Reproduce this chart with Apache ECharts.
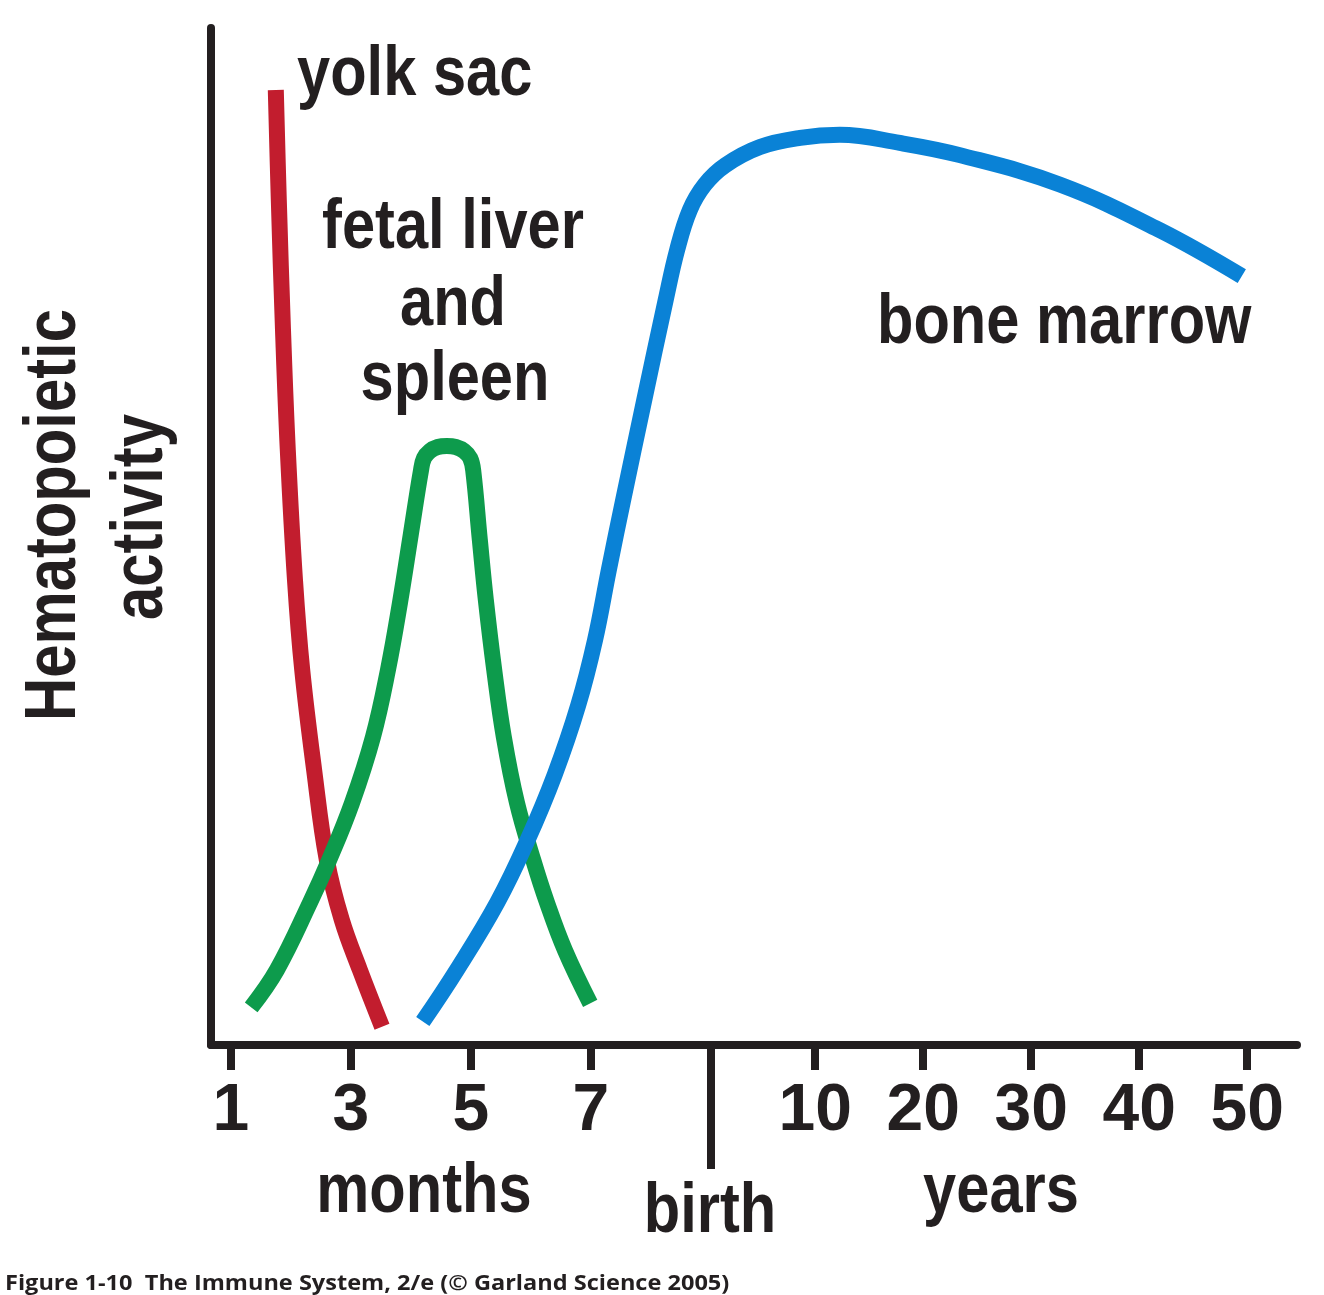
<!DOCTYPE html>
<html>
<head>
<meta charset="utf-8">
<script src="https://cdn.jsdelivr.net/npm/echarts@6/dist/echarts.min.js"></script>
<style>
  html, body { margin: 0; padding: 0; background: #ffffff; }
  #chart { width: 1324px; height: 1295px; }
</style>
</head>
<body>
<div id="chart"></div>
<script>
// ---- Axis ticks (x axis: months before birth, then years after birth) ----
const monthTicks = [1, 3, 5, 7];
const yearTicks = [10, 20, 30, 40, 50];
const birthPosition = 9;            // birth, in month units on the axis
const YEAR_ORIGIN = 8.94;           // axis position of year 0
const YEAR_STEP = 0.18;             // axis units per year
function yearToAxis(y) { return YEAR_ORIGIN + y * YEAR_STEP; }
function axisToYear(v) { return (v - YEAR_ORIGIN) / YEAR_STEP; }

// ---- Curves: x = axis position (months; post-birth part on the compressed year scale), y = activity (0-100) ----
const yolkSacX = [1.75, 1.80, 1.87, 1.95, 2.07, 2.19, 2.39, 2.60, 2.85, 3.15, 3.52];
const yolkSacY = [93.9, 83.1, 70.3, 58.5, 45.7, 36.9, 27.0, 18.2, 12.3, 7.4, 1.8];

const liverSpleenX = [1.34, 1.77, 2.32, 2.64, 3.02, 3.37, 3.62, 3.82, 4.00, 4.17, 4.22, 4.32, 4.45, 4.60,
                      4.75, 4.89, 4.99, 5.04, 5.15, 5.25, 5.39, 5.55, 5.77, 6.04, 6.27, 6.57, 6.99];
const liverSpleenY = [3.7, 7.4, 14.0, 18.2, 23.8, 30.3, 36.9, 43.5, 50.2, 56.5, 57.7, 58.4, 58.8, 58.9,
                      58.8, 58.4, 57.7, 56.5, 49.7, 43.8, 36.9, 30.3, 23.8, 18.2, 14.0, 9.3, 4.1];

const boneMarrowX = [4.20, 4.77, 5.44, 5.95, 6.40, 6.79, 7.07, 7.30, 7.54, 7.89, 8.25, 8.44, 8.65, 8.90, 9.24, 9.82,
                     10.49, 11.15, 12.15, 13.15, 14.82, 16.49, 17.85];
const boneMarrowY = [2.3, 7.4, 14.0, 20.2, 26.6, 33.4, 39.8, 46.7, 53.6, 63.4, 73.3, 78.2, 82.1, 84.6, 86.5, 88.3,
                     89.2, 89.5, 88.7, 87.5, 84.6, 80.1, 75.6];

function pairs(xs, ys) { return xs.map((x, i) => [x, ys[i]]); }

const INK = '#231f20';
const SANS = "'Liberation Sans', Arial, Helvetica, sans-serif";
const tickValues = monthTicks.concat(yearTicks.map(yearToAxis));

// Helvetica-condensed look: Liberation Sans Bold, horizontally compressed
function txt(text, x, y, align, size, squeeze, rotation) {
  const el = {
    type: 'text', x: x, y: y, scaleX: squeeze,
    style: {
      text: text, fill: INK,
      font: 'bold ' + size + 'px ' + SANS,
      align: align, textAlign: align,
      verticalAlign: 'middle', textVerticalAlign: 'middle'
    }
  };
  if (rotation) el.rotation = rotation;
  return el;
}

const chart = echarts.init(document.getElementById('chart'), null, { renderer: 'canvas' });
chart.setOption({
  backgroundColor: '#ffffff',
  animation: false,
  grid: { left: 211, right: 27, top: 28, bottom: 250, containLabel: false },
  xAxis: [
    {
      type: 'value', min: 0.67, max: 18.77, position: 'bottom',
      splitLine: { show: false },
      axisLine: { show: true, lineStyle: { color: INK, width: 8 } },
      axisTick: { show: true, customValues: tickValues, length: 25, lineStyle: { color: INK, width: 8 } },
      axisLabel: {
        show: true, customValues: tickValues, margin: 67,
        color: INK, fontFamily: SANS, fontWeight: 'bold', fontSize: 66, lineHeight: 66,
        verticalAlign: 'middle',
        formatter: function (v) {
          if (v < birthPosition) return String(Math.round(v));
          return String(Math.round(axisToYear(v)));
        }
      }
    },
    {
      type: 'value', min: 0.67, max: 18.77, position: 'bottom', offset: 0,
      splitLine: { show: false },
      axisLine: { show: false },
      axisTick: { show: true, customValues: [birthPosition], length: 124, lineStyle: { color: INK, width: 8 } },
      axisLabel: { show: false }
    }
  ],
  yAxis: {
    type: 'value', min: 0, max: 100,
    splitLine: { show: false },
    axisTick: { show: false },
    axisLabel: { show: false },
    axisLine: { show: true, lineStyle: { color: INK, width: 8 } }
  },
  series: [
    {
      name: 'yolk sac', type: 'line', xAxisIndex: 0, data: pairs(yolkSacX, yolkSacY),
      smooth: 0.4, showSymbol: false, symbol: 'none',
      lineStyle: { color: '#c21d2e', width: 16, cap: 'butt', join: 'round' }
    },
    {
      name: 'fetal liver and spleen', type: 'line', xAxisIndex: 0, data: pairs(liverSpleenX, liverSpleenY),
      smooth: 0.4, showSymbol: false, symbol: 'none',
      lineStyle: { color: '#0d9b4c', width: 16, cap: 'butt', join: 'round' }
    },
    {
      name: 'bone marrow', type: 'line', xAxisIndex: 0, data: pairs(boneMarrowX, boneMarrowY),
      smooth: 0.4, showSymbol: false, symbol: 'none',
      lineStyle: { color: '#0a82d6', width: 16, cap: 'butt', join: 'round' }
    }
  ],
  graphic: [
    txt('yolk sac', 297, 75, 'left', 71, 0.84),
    txt('fetal liver', 453, 228, 'center', 71, 0.84),
    txt('and', 453, 305, 'center', 71, 0.84),
    txt('spleen', 455, 380, 'center', 71, 0.84),
    txt('bone marrow', 877, 323, 'left', 71, 0.84),
    txt('months', 424, 1192, 'center', 71, 0.84),
    txt('birth', 710, 1212, 'center', 71, 0.84),
    txt('years', 1001, 1192, 'center', 71, 0.84),
    txt('Hematopoietic', 55, 515, 'center', 72, 0.83, Math.PI / 2),
    txt('activity', 142, 517, 'center', 72, 0.83, Math.PI / 2),
    {
      type: 'text', x: 5, y: 1284, scaleX: 1.07,
      style: {
        text: 'Figure 1-10  The Immune System, 2/e (\u00A9 Garland Science 2005)',
        fill: INK, font: "bold 22px 'Open Sans', 'Noto Sans', sans-serif",
        align: 'left', textAlign: 'left', verticalAlign: 'middle', textVerticalAlign: 'middle'
      }
    }
  ]
});
</script>
</body>
</html>
